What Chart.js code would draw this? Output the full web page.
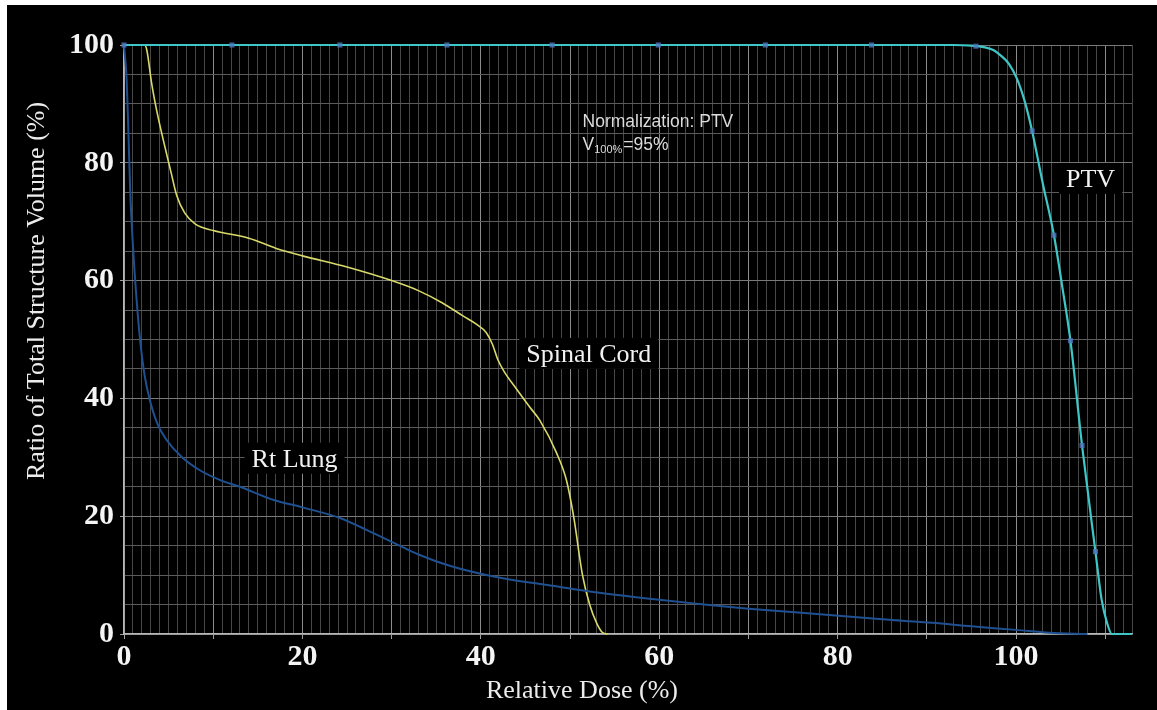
<!DOCTYPE html>
<html>
<head>
<meta charset="utf-8">
<title>DVH</title>
<script src="https://cdn.jsdelivr.net/npm/chart.js@4.4.0/dist/chart.umd.min.js"></script>
<style>
  html, body { margin: 0; padding: 0; background: #fff; }
  #wrap { position: absolute; left: 7px; top: 5px; width: 1150px; height: 705px; background: #000; }
</style>
</head>
<body>
<div id="wrap"><canvas id="dvh" width="1150" height="705"></canvas></div>
<script>
// dose-volume values
const ptvDose   = [0, 93, 95, 96.5, 97.5, 98.3, 99.2, 100.1, 101, 101.8, 103, 104.25, 105.2, 106.1, 107.4, 108.9, 109.6, 110.2, 110.75, 113];
const ptvVolume = [100, 100, 99.9, 99.6, 99.1, 98.2, 96.8, 94.3, 90.3, 85.4, 76.5, 67.7, 58.8, 49.8, 32.0, 14.0, 5.8, 1.9, 0, 0];

const cordDose   = [0, 2.3, 2.55, 3.1, 3.65, 4.4, 5.3, 5.9, 6.8, 8, 10, 14, 17, 20, 25, 30, 33, 35.7, 38, 39.5, 40.6, 41.3, 41.9, 42.6, 44, 45.5, 46.6, 48.5, 49.6, 50.4, 51.4, 52.2, 53, 53.6, 54.2];
const cordVolume = [100, 100, 99.2, 93.5, 89, 83.9, 78.2, 74.5, 71.5, 69.6, 68.5, 67.2, 65.5, 64.2, 62.3, 60, 58.3, 56.2, 54, 52.6, 51.2, 49.2, 46.6, 44.6, 41.6, 38.5, 36.3, 30.7, 26.1, 20, 10, 5, 1.8, 0.3, 0];

const lungDose   = [0, 0.3, 0.5, 0.7, 1, 1.4, 1.8, 2.3, 2.9, 3.8, 4.8, 6.5, 8.5, 11, 13, 16.7, 20, 24.2, 27, 30.9, 33, 36.5, 42, 48, 53.3, 60, 64.5, 70, 79.4, 85, 90.6, 95, 100, 103.7, 108];
const lungVolume = [100, 94, 85, 75, 66, 57, 50, 44, 39.7, 35.5, 32.9, 30, 27.8, 26, 25, 22.8, 21.5, 19.7, 17.8, 15, 13.5, 11.6, 9.6, 8.2, 7, 5.8, 5.1, 4.3, 3.2, 2.5, 1.9, 1.3, 0.7, 0.2, 0];

// small square markers sitting on the PTV curve
const markerDose   = [0, 12.1, 24.2, 36.2, 48, 59.9, 71.9, 83.8, 95.5, 101.8, 104.25, 106.1, 107.4, 108.9];
const markerVolume = [100, 100, 100, 100, 100, 100, 100, 100, 99.8, 85.4, 67.7, 49.8, 32.0, 14.0];

const xTickLabels = [0, 20, 40, 60, 80, 100];
const yTickLabels = [0, 20, 40, 60, 80, 100];

const toPoints = (xs, ys) => xs.map((v, i) => ({ x: v, y: ys[i] }));

// curve names written inside the plot (position in data units, text baseline)
const curveLabels = [
  { text: 'Rt Lung',     x: 14.3,  y: 28.4 },
  { text: 'Spinal Cord', x: 45.1,  y: 46.2 },
  { text: 'PTV',         x: 105.6, y: 75.9 }
];

const serif = '"Liberation Serif", "Times New Roman", serif';

const annotate = {
  id: 'annotate',
  afterDatasetsDraw(chart) {
    const { ctx, scales: { x, y } } = chart;
    ctx.save();
    ctx.font = '26px ' + serif;
    ctx.textBaseline = 'alphabetic';
    ctx.textAlign = 'left';
    curveLabels.forEach(l => {
      const px = x.getPixelForValue(l.x);
      const py = y.getPixelForValue(l.y);
      const w = ctx.measureText(l.text).width;
      ctx.fillStyle = '#000';
      ctx.fillRect(px - 7, py - 24, w + 14, 31);
      ctx.fillStyle = '#f2f2f2';
      ctx.fillText(l.text, px, py);
    });

    // normalization note
    const nx = x.getPixelForValue(51.4);
    const ny = y.getPixelForValue(86.1);
    ctx.fillStyle = '#dcdcdc';
    ctx.font = '17.5px "Liberation Sans", Arial, sans-serif';
    ctx.fillText('Normalization: PTV', nx, ny);
    const ny2 = ny + 23;
    ctx.fillText('V', nx, ny2);
    let cx = nx + ctx.measureText('V').width;
    ctx.font = '11px "Liberation Sans", Arial, sans-serif';
    ctx.fillText('100%', cx, ny2 + 3);
    cx += ctx.measureText('100%').width + 1;
    ctx.font = '17.5px "Liberation Sans", Arial, sans-serif';
    ctx.fillText('=95%', cx, ny2);
    ctx.restore();
  },
  afterDraw(chart) {
    const { ctx } = chart;
    ctx.save();
    ctx.fillStyle = '#ececec';
    ctx.font = '26px ' + serif;
    ctx.textAlign = 'center';
    ctx.textBaseline = 'alphabetic';
    ctx.fillText('Relative Dose (%)', 575, 693);
    ctx.translate(37, 286);
    ctx.rotate(-Math.PI / 2);
    ctx.fillText('Ratio of Total Structure Volume (%)', 0, 0);
    ctx.restore();
  }
};

const lineStyle = {
  pointRadius: 0,
  pointHoverRadius: 0,
  fill: false,
  cubicInterpolationMode: 'monotone',
  clip: 4
};

new Chart(document.getElementById('dvh'), {
  type: 'line',
  data: {
    datasets: [
      Object.assign({ label: 'Rt Lung', data: toPoints(lungDose, lungVolume), borderColor: '#1f5091', borderWidth: 2, order: 2 }, lineStyle),
      Object.assign({ label: 'Spinal Cord', data: toPoints(cordDose, cordVolume), borderColor: '#dada6a', borderWidth: 1.6, order: 2 }, lineStyle),
      Object.assign({ label: 'PTV', data: toPoints(ptvDose, ptvVolume), borderColor: '#3fc6c6', borderWidth: 2.2, order: 1 }, lineStyle),
      {
        label: 'markers',
        data: toPoints(markerDose, markerVolume),
        showLine: false,
        pointStyle: 'rect',
        pointRadius: 3.6,
        pointHoverRadius: 3.6,
        pointBackgroundColor: 'rgba(80,118,190,0.8)',
        pointBorderColor: 'rgba(80,118,190,0.8)',
        pointBorderWidth: 0,
        order: 0,
        clip: false
      }
    ]
  },
  options: {
    responsive: false,
    devicePixelRatio: 1,
    animation: false,
    events: [],
    layout: { padding: { top: 40, right: 25, left: 0, bottom: 0 } },
    plugins: {
      legend: { display: false },
      tooltip: { enabled: false }
    },
    scales: {
      x: {
        type: 'linear',
        min: 0,
        max: 113,
        afterFit: s => { s.height = 76; },
        border: { display: true, color: '#b8b8b8', width: 1.5 },
        grid: {
          color: c => c.tick && c.tick.value % 10 === 0 ? '#8c8c8c' : '#474747',
          lineWidth: 1,
          tickLength: 5,
          tickColor: c => c.tick && c.tick.value % 10 === 0 ? '#a0a0a0' : 'rgba(0,0,0,0)'
        },
        ticks: {
          stepSize: 1,
          autoSkip: false,
          maxRotation: 0,
          padding: 0,
          color: '#f4f4f4',
          font: { family: serif, size: 30, weight: 'bold' },
          callback: v => xTickLabels.includes(v) ? String(v) : ''
        }
      },
      y: {
        min: 0,
        max: 100,
        afterFit: s => { s.width = 117; },
        border: { display: true, color: '#b8b8b8', width: 1.5 },
        grid: {
          color: c => c.tick && c.tick.value % 20 === 0 ? '#7a7a7a' : '#5c5c5c',
          lineWidth: 1,
          tickLength: 4,
          tickColor: c => c.tick && c.tick.value % 20 === 0 ? '#a0a0a0' : 'rgba(0,0,0,0)'
        },
        ticks: {
          stepSize: 5,
          autoSkip: false,
          padding: 6,
          color: '#f4f4f4',
          font: { family: serif, size: 30, weight: 'bold' },
          callback: v => yTickLabels.includes(v) ? String(v) : ''
        }
      }
    }
  },
  plugins: [annotate]
});
</script>
</body>
</html>
